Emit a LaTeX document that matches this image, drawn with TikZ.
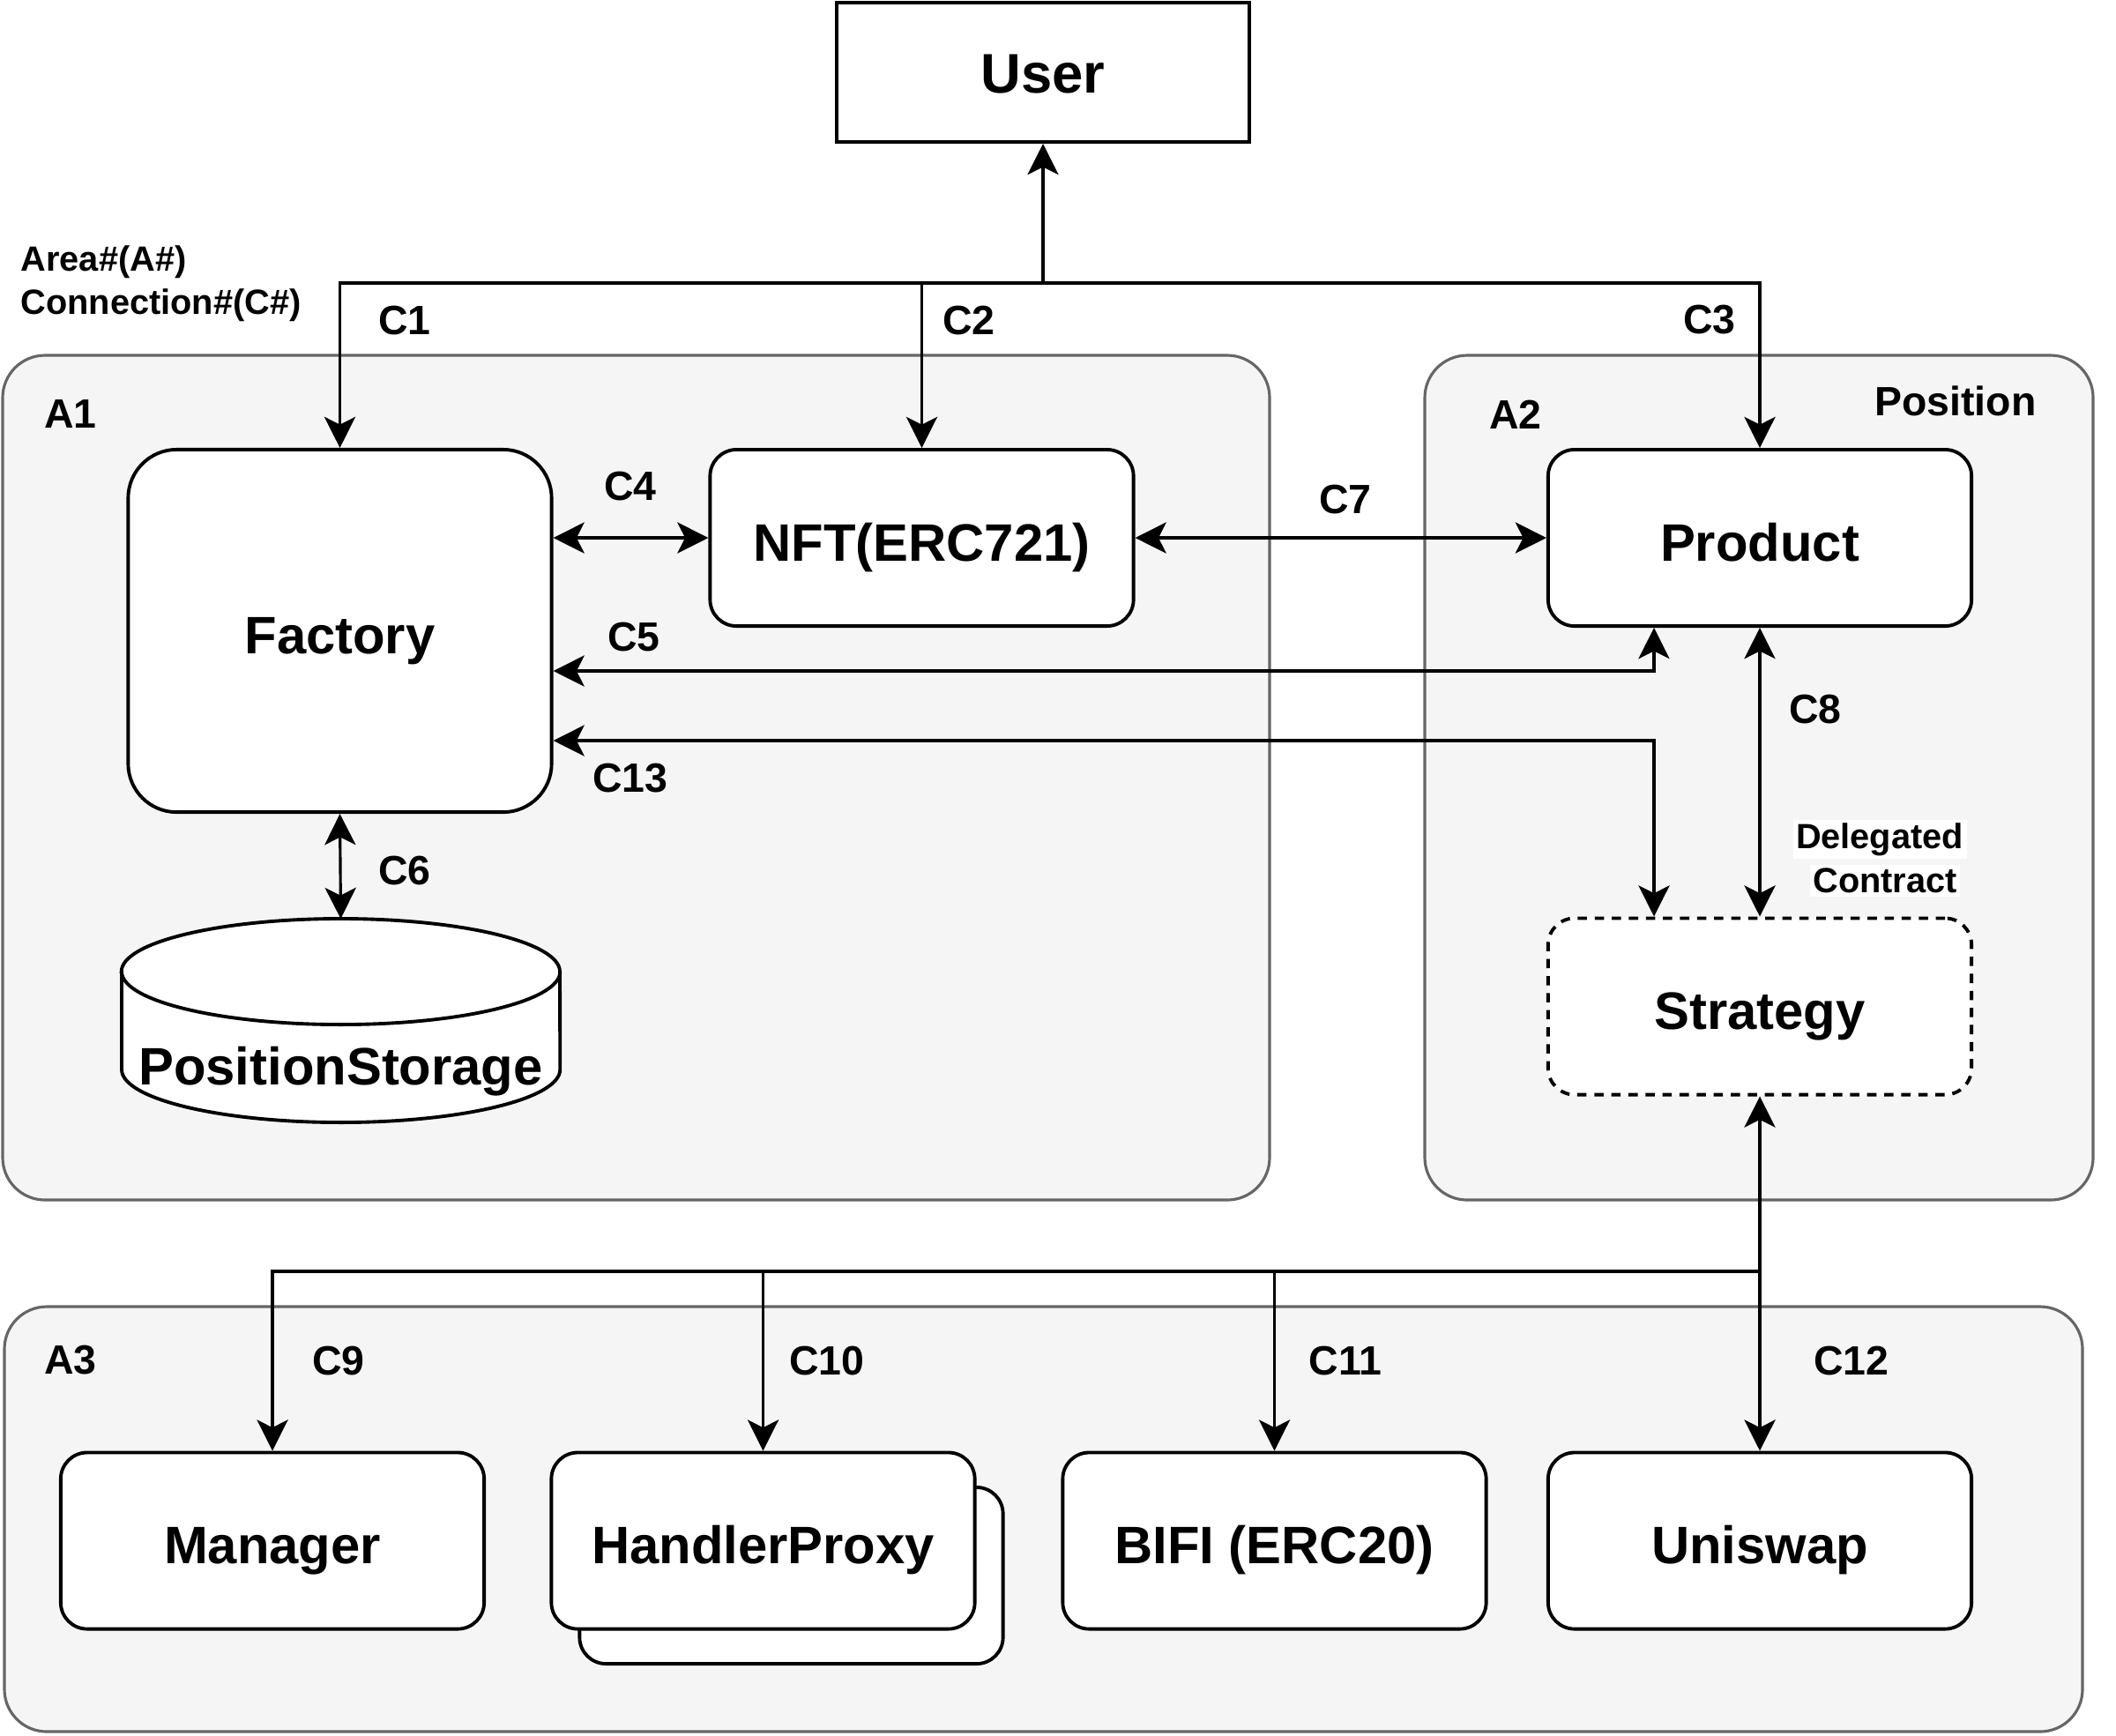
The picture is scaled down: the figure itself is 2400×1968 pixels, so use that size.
\documentclass[tikz,border=0pt]{standalone}
\usepackage{fontspec}
\setmainfont{Liberation Sans}
\usetikzlibrary{arrows.meta, positioning}

\tikzset{
  area/.style={draw=black!60, fill=black!4, line width=0.9pt, rounded corners=0.48cm},
  box/.style={draw, fill=white, line width=1.1pt, rounded corners=0.3cm,
    minimum width=4.8cm, minimum height=2cm, inner sep=0pt,
    text height=15pt, text depth=0pt,
    font=\fontsize{17}{20}\selectfont\bfseries},
  lbl/.style={font=\fontsize{13.2}{15}\selectfont\bfseries, inner sep=0pt},
  note/.style={font=\fontsize{11.3}{13}\selectfont\bfseries, inner sep=1pt},
  link/.style={line width=0.9pt},
  arr/.style={link, -{Stealth[length=10pt, width=10pt, inset=2.5pt]}},
  dbl/.style={link, {Stealth[length=10pt, width=10pt, inset=2.5pt]}-{Stealth[length=10pt, width=10pt, inset=2.5pt]}}
}

\begin{document}
\begin{tikzpicture}[x=0.01cm, y=-0.01cm]
\useasboundingbox (0,0) rectangle (2400,1968);

% areas
\draw[area] (3,403) rectangle (1440,1361);
\draw[area] (1616,403) rectangle (2374,1361);
\draw[area] (5,1482) rectangle (2362,1964);
\node[lbl] (a1) at (80,470) {A1};
\node[lbl] (a2) at (1719,470) {A2};
\node[lbl] (a3) at (80,1543) {A3};
\node[lbl] (pos) at (2218,455) {Position};

% boxes
\node[box, sharp corners, minimum width=4.68cm, minimum height=1.58cm, text height=13.5pt,
  font=\fontsize{18}{21}\selectfont\bfseries] (user) at (1183,82) {User};
\node[box, minimum height=4.11cm, rounded corners=0.55cm] (fac) at (385.5,715.5) {Factory};
\node[box] (nft) at (1045.5,610) {NFT(ERC721)};
\node[box] (prod) at (1996,610) {Product};
\node[box, dash pattern=on 3pt off 2.5pt] (strat) at (1996,1141.5) {Strategy};
\node[box] (mgr) at (309,1747.5) {Manager};
\node[box] (hpback) at (897.5,1787) {};
\node[box] (hp) at (865.5,1747.5) {HandlerProxy};
\node[box] (bifi) at (1445.5,1747.5) {BIFI (ERC20)};
\node[box] (uni) at (1996,1747.5) {Uniswap};

% storage cylinder
\filldraw[fill=white, line width=1.1pt] (138,1102) -- (138,1213)
  arc[start angle=180, end angle=360, x radius=2.485cm, y radius=0.6cm]
  -- (635,1102)
  arc[start angle=0, end angle=180, x radius=2.485cm, y radius=0.6cm] -- cycle;
\draw[line width=1.1pt] (138,1102)
  arc[start angle=180, end angle=360, x radius=2.485cm, y radius=0.6cm];
\coordinate (storetop) at (386.5,1042);
\node[box, draw=none, fill=none] (store) at (386.5,1204) {PositionStorage};

% connections
\coordinate (hub) at (1183,321);
\draw[arr] (hub) -- (user.south);
\draw[arr] (hub) -| (fac.north);
\draw[arr] (hub) -| (nft.north);
\draw[arr] (hub) -| (prod.north);
\draw[dbl] (fac.east |- nft.west) -- (nft.west);
\draw[dbl] (nft.east) -- (prod.west);
\coordinate (c5bend) at (1876,761);
\draw[dbl] (fac.east |- c5bend) -- (c5bend) -- (c5bend |- prod.south);
\coordinate (c13bend) at (1876,840);
\draw[dbl] (fac.east |- c13bend) -- (c13bend) -- (c13bend |- strat.north);
\draw[dbl] (prod.south) -- (strat.north);
\draw[dbl] (fac.south) -- (storetop);
\draw[dbl] (strat.south) -- (uni.north);
\coordinate (bus) at (1996,1442);
\draw[arr] (bus) -| (mgr.north);
\draw[arr] (bus) -| (hp.north);
\draw[arr] (bus) -| (bifi.north);

% connection labels
\node[lbl] (c1) at (459,363) {C1};
\node[lbl] (c2) at (1099,363) {C2};
\node[lbl] (c3) at (1939,363) {C3};
\node[lbl] (c4) at (715,551) {C4};
\node[lbl] (c5) at (719,722) {C5};
\node[lbl] (c13) at (715,883) {C13};
\node[lbl] (c6) at (459,987) {C6};
\node[lbl] (c7) at (1526,566) {C7};
\node[lbl] (c8) at (2059,804) {C8};
\node[lbl] (c9) at (384,1543) {C9};
\node[lbl] (c10) at (938,1543) {C10};
\node[lbl] (c11) at (1526,1543) {C11};
\node[lbl] (c12) at (2100,1543) {C12};
\node[note, fill=white] (deleg) at (2132,952) {Delegated};
\node[note, fill=white] (contr) at (2138,999) {Contract};

% legend
\node[note, anchor=west] (legarea) at (19.5,297) {Area\#(A\#)};
\node[note, anchor=west] (legconn) at (19.5,346) {Connection\#(C\#)};
\end{tikzpicture}
\end{document}
